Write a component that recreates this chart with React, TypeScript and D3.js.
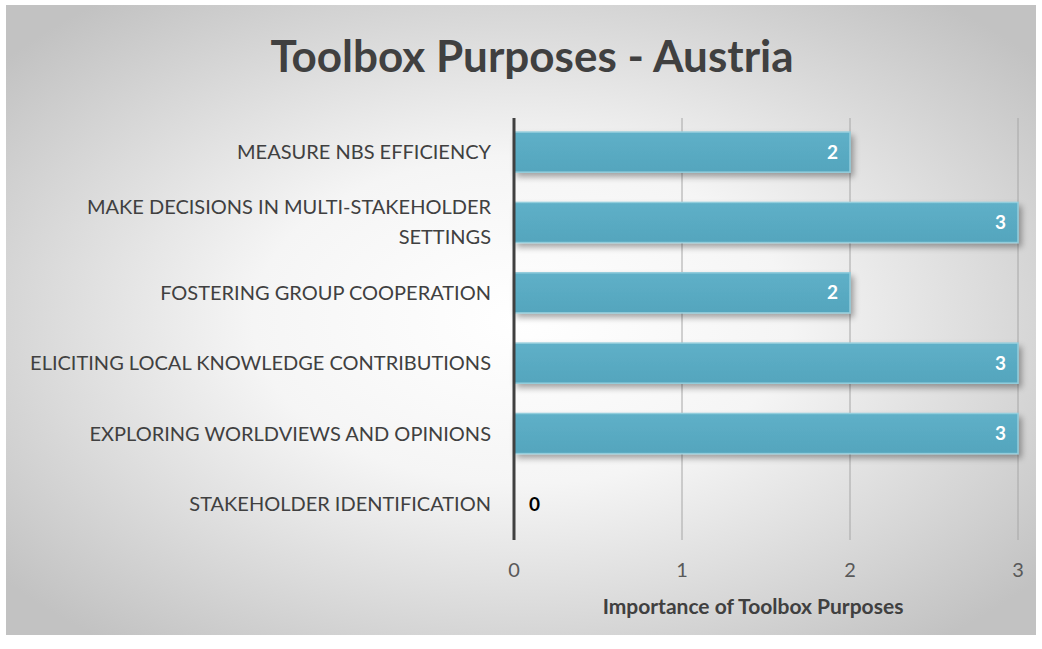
import React from "react";
import * as d3 from "d3";

const categories = [
  "MEASURE NBS EFFICIENCY",
  "MAKE DECISIONS IN MULTI-STAKEHOLDER|SETTINGS",
  "FOSTERING GROUP COOPERATION",
  "ELICITING LOCAL KNOWLEDGE CONTRIBUTIONS",
  "EXPLORING WORLDVIEWS AND OPINIONS",
  "STAKEHOLDER IDENTIFICATION",
];
const values = [2, 3, 2, 3, 3, 0];
const ticks = [0, 1, 2, 3];

const W = 1042;
const H = 649;
const FONT = "Lato, 'Open Sans', sans-serif";

export default function App() {
  const x = d3.scaleLinear([0, 3], [514, 1018]);
  const y = d3.scaleBand<string>().domain(categories).range([118, 538]).paddingInner(0.43).paddingOuter(0.2);
  const bh = y.bandwidth();

  return (
    <svg width={W} height={H} style={{ position: "absolute", left: 0, top: 0 }}>
      <defs>
        <radialGradient id="bg" cx="50%" cy="50%" r="65%">
          <stop offset="0%" stopColor="#ffffff" />
          <stop offset="40%" stopColor="#f5f5f5" />
          <stop offset="100%" stopColor="#c2c2c2" />
        </radialGradient>
        <linearGradient id="bar" x1="0" y1="0" x2="0" y2="1">
          <stop offset="0%" stopColor="#5fb0c8" />
          <stop offset="100%" stopColor="#54a5bd" />
        </linearGradient>
        <filter id="sh" x="-5%" y="-30%" width="110%" height="180%">
          <feGaussianBlur in="SourceAlpha" stdDeviation="3" />
          <feOffset dx="3" dy="4" result="b" />
          <feComponentTransfer>
            <feFuncA type="linear" slope="0.35" />
          </feComponentTransfer>
          <feMerge>
            <feMergeNode />
            <feMergeNode in="SourceGraphic" />
          </feMerge>
        </filter>
      </defs>
      <rect x={0} y={0} width={W} height={H} fill="#ffffff" />
      <rect x={6} y={5} width={1030} height={630} fill="url(#bg)" />

      <text x={532} y={72} textAnchor="middle" fontFamily={FONT} fontWeight={700} fontSize={44} fill="#404040">
        Toolbox Purposes - Austria
      </text>

      {ticks.slice(1).map((t) => (
        <line key={t} x1={x(t)} x2={x(t)} y1={118} y2={540} stroke="#a6a6a6" strokeWidth={1} />
      ))}

      {categories.map((c, i) => {
        const v = values[i];
        const y0 = y(c)!;
        const lines = c.split("|");
        const cy = y0 + bh / 2;
        return (
          <g key={c}>
            {v > 0 && (
              <rect
                x={x(0)}
                y={y0}
                width={x(v) - x(0)}
                height={bh}
                fill="url(#bar)"
                stroke="#93cddc"
                strokeWidth={1.5}
                filter="url(#sh)"
              />
            )}
            <text
              x={v > 0 ? x(v) - 12 : x(v) + 15}
              y={cy}
              dy="0.35em"
              textAnchor={v > 0 ? "end" : "start"}
              fontFamily={FONT}
              fontWeight={700}
              fontSize={19}
              fill={v > 0 ? "#ffffff" : "#000000"}
            >
              {v}
            </text>
            {lines.map((l, k) => (
              <text
                key={k}
                x={491}
                y={cy + (k - (lines.length - 1) / 2) * 30}
                dy="0.35em"
                textAnchor="end"
                fontFamily={FONT}
                fontSize={20}
                fill="#404040"
              >
                {l}
              </text>
            ))}
          </g>
        );
      })}

      <line x1={x(0)} x2={x(0)} y1={118} y2={540} stroke="#404040" strokeWidth={3} />

      {ticks.map((t) => (
        <text key={t} x={x(t)} y={570} dy="0.35em" textAnchor="middle" fontFamily={FONT} fontSize={20} fill="#595959">
          {t}
        </text>
      ))}

      <text x={753} y={607} dy="0.35em" textAnchor="middle" fontFamily={FONT} fontWeight={700} fontSize={21} fill="#404040">
        Importance of Toolbox Purposes
      </text>
    </svg>
  );
}
